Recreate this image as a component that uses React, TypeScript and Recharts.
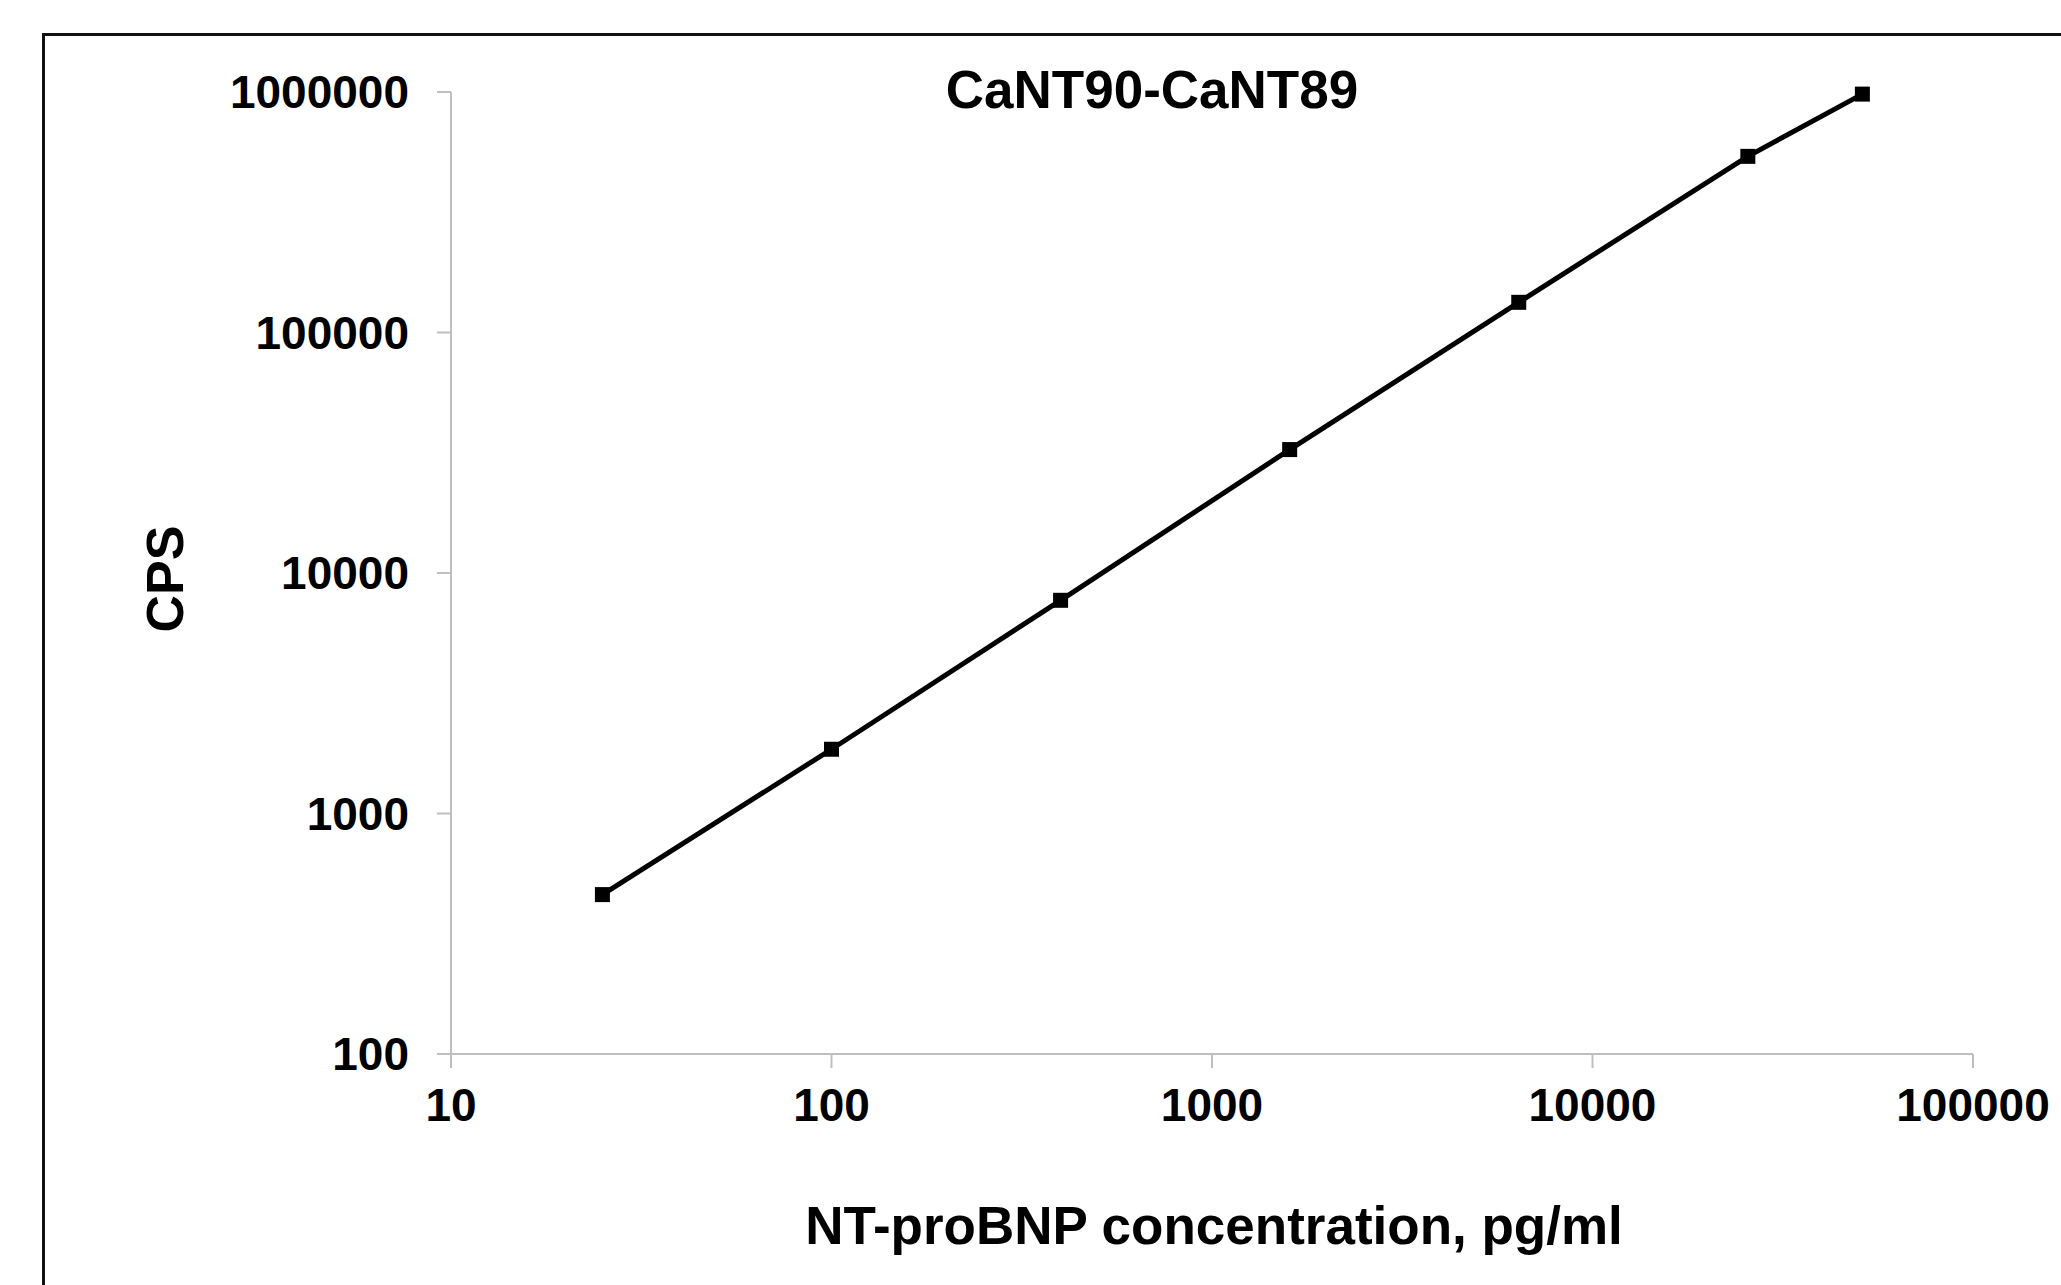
import React from 'react';
import { LineChart, Line, XAxis, YAxis } from 'recharts';

const concentrations = [25, 100, 400, 1600, 6400, 25600, 51200];
const cpsValues = [460, 1850, 7700, 32600, 133500, 540000, 980000];
const xTicks = [10, 100, 1000, 10000, 100000];
const yTicks = [100, 1000, 10000, 100000, 1000000];

const chartTitle = 'CaNT90-CaNT89';
const xTitle = 'NT-proBNP concentration, pg/ml';
const yTitle = 'CPS';

const data = concentrations.map((c, i) => ({ conc: c, cps: cpsValues[i] }));

const FONT = '"Liberation Sans", Arial, Helvetica, sans-serif';
const AXIS_COLOR = '#bfbfbf';

const tickStyle = { fontSize: 46, fontWeight: 700, fill: '#000', fontFamily: FONT };

const SquareDot = (props: any) => {
  const { cx, cy, index } = props;
  if (cx == null || cy == null) return null;
  return <rect key={`dot-${index}`} x={cx - 7.5} y={cy - 7.5} width={15} height={15} fill="#000" />;
};

const App: React.FC = () => {
  return (
    <div
      style={{
        position: 'absolute',
        left: 0,
        top: 0,
        width: 2061,
        height: 1285,
        overflow: 'hidden',
        background: '#fff',
        fontFamily: FONT,
      }}
    >
      <div
        style={{
          position: 'absolute',
          left: 42,
          top: 33,
          width: 2200,
          height: 1400,
          border: '3px solid #111',
        }}
      />
      <LineChart
        width={2061}
        height={1285}
        data={data}
        margin={{ top: 92, right: 88, bottom: 0, left: 0 }}
        style={{ position: 'absolute', left: 0, top: 0 }}
      >
        <XAxis
          dataKey="conc"
          type="number"
          scale="log"
          domain={[10, 100000]}
          ticks={xTicks}
          height={231}
          tickSize={14}
          tickMargin={20}
          tick={tickStyle}
          stroke={AXIS_COLOR}
          strokeWidth={2}
          interval={0}
        />
        <YAxis
          dataKey="cps"
          type="number"
          scale="log"
          domain={[100, 1000000]}
          ticks={yTicks}
          width={451}
          tickSize={14}
          tickMargin={28}
          tick={tickStyle}
          stroke={AXIS_COLOR}
          strokeWidth={2}
          interval={0}
        />
        <Line
          dataKey="cps"
          type="linear"
          stroke="#000"
          strokeWidth={5}
          dot={SquareDot}
          activeDot={false}
          isAnimationActive={false}
        />
      </LineChart>
      <div
        style={{
          position: 'absolute',
          left: 1152,
          top: 60,
          transform: 'translateX(-50%)',
          fontSize: 53,
          fontWeight: 700,
          whiteSpace: 'nowrap',
          lineHeight: '60px',
        }}
      >
        {chartTitle}
      </div>
      <div
        style={{
          position: 'absolute',
          left: 1214,
          top: 1196,
          transform: 'translateX(-50%)',
          fontSize: 53,
          fontWeight: 700,
          whiteSpace: 'nowrap',
          lineHeight: '60px',
        }}
      >
        {xTitle}
      </div>
      <div
        style={{
          position: 'absolute',
          left: 165,
          top: 579,
          transform: 'translate(-50%, -50%) rotate(-90deg)',
          fontSize: 52,
          fontWeight: 700,
          whiteSpace: 'nowrap',
          lineHeight: '60px',
        }}
      >
        {yTitle}
      </div>
    </div>
  );
};

export default App;
